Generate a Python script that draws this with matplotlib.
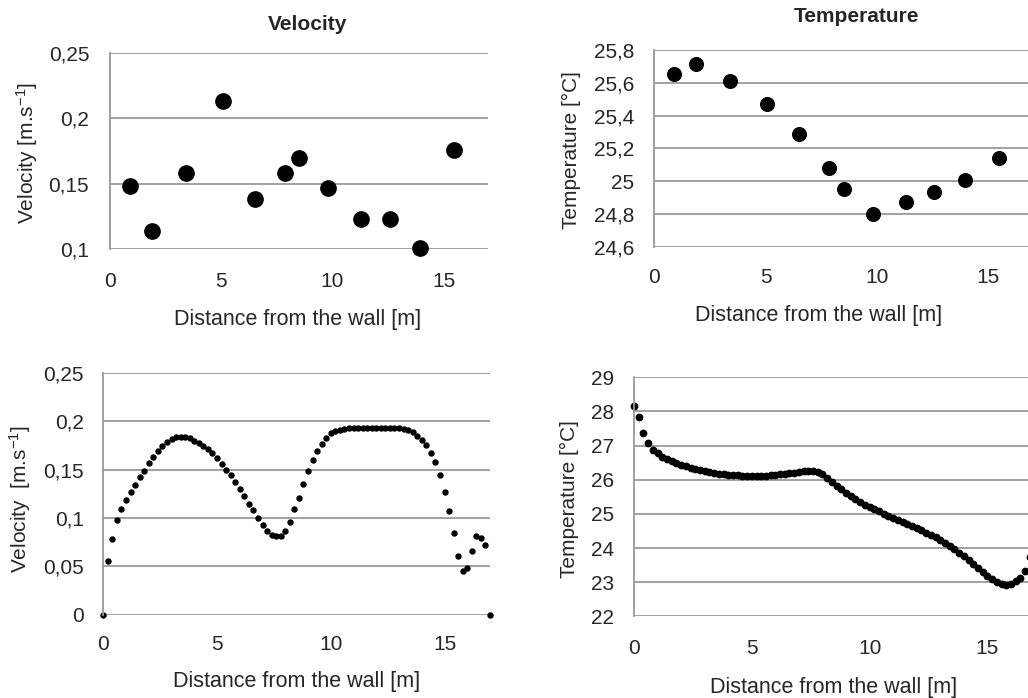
import matplotlib

matplotlib.use('Agg')
import matplotlib.pyplot as plt

plt.rcParams['font.family'] = ['Liberation Sans', 'DejaVu Sans']
plt.rcParams['mathtext.fontset'] = 'custom'
plt.rcParams['mathtext.rm'] = 'Liberation Sans'
plt.rcParams['mathtext.default'] = 'regular'

# --- measured points (top row) ---
x_meas = [0.88, 1.88, 3.42, 5.06, 6.50, 7.85, 8.50, 9.80, 11.28, 12.58, 13.96, 15.46]
vel_meas = [0.148, 0.114, 0.158, 0.213, 0.138, 0.158, 0.170, 0.147, 0.123, 0.123, 0.101, 0.176]
temp_meas = [25.654, 25.715, 25.611, 25.471, 25.290, 25.082, 24.952, 24.799, 24.871, 24.932, 25.007, 25.143]

# --- simulated profiles (bottom row) ---
x_profile = [0.0, 0.2, 0.4, 0.6, 0.8, 1.0, 1.2, 1.4, 1.6, 1.8,
             2.0, 2.2, 2.4, 2.6, 2.8, 3.0, 3.2, 3.4, 3.6, 3.8,
             4.0, 4.2, 4.4, 4.6, 4.8, 5.0, 5.2, 5.4, 5.6, 5.8,
             6.0, 6.2, 6.4, 6.6, 6.8, 7.0, 7.2, 7.4, 7.6, 7.8,
             8.0, 8.2, 8.4, 8.6, 8.8, 9.0, 9.2, 9.4, 9.6, 9.8,
             10.0, 10.2, 10.4, 10.6, 10.8, 11.0, 11.2, 11.4, 11.6, 11.8,
             12.0, 12.2, 12.4, 12.6, 12.8, 13.0, 13.2, 13.4, 13.6, 13.8,
             14.0, 14.2, 14.4, 14.6, 14.8, 15.0, 15.2, 15.4, 15.6, 15.8,
             16.0, 16.2, 16.4, 16.6, 16.8, 17.0]
vel_profile = [0.0, 0.056, 0.078, 0.098, 0.109, 0.119, 0.127, 0.134, 0.142, 0.149,
               0.157, 0.163, 0.169, 0.175, 0.179, 0.182, 0.1834, 0.1838, 0.1834, 0.1824,
               0.180, 0.178, 0.174, 0.171, 0.167, 0.162, 0.156, 0.150, 0.144, 0.137,
               0.130, 0.123, 0.115, 0.108, 0.100, 0.093, 0.087, 0.082, 0.081, 0.081,
               0.087, 0.096, 0.109, 0.121, 0.135, 0.149, 0.160, 0.169, 0.177, 0.183,
               0.188, 0.190, 0.1915, 0.1922, 0.1927, 0.193, 0.193, 0.193, 0.193, 0.1932,
               0.1933, 0.1935, 0.1936, 0.1936, 0.1934, 0.193, 0.192, 0.191, 0.189, 0.185,
               0.181, 0.176, 0.167, 0.158, 0.144, 0.127, 0.107, 0.0845, 0.061, 0.045,
               0.0486, 0.0655, 0.081, 0.0797, 0.072, 0.0]
temp_profile = [28.17, 27.85, 27.36, 27.07, 26.88, 26.78, 26.68, 26.60, 26.54, 26.49,
                26.44, 26.40, 26.35, 26.32, 26.28, 26.25, 26.22, 26.20, 26.18, 26.17,
                26.15, 26.14, 26.13, 26.12, 26.12, 26.11, 26.11, 26.12, 26.12, 26.14,
                26.15, 26.17, 26.18, 26.20, 26.21, 26.23, 26.25, 26.27, 26.27, 26.24,
                26.17, 26.06, 25.94, 25.83, 25.72, 25.61, 25.51, 25.43, 25.35, 25.27,
                25.20, 25.13, 25.07, 25.01, 24.95, 24.89, 24.83, 24.76, 24.70, 24.64,
                24.58, 24.52, 24.45, 24.38, 24.31, 24.23, 24.15, 24.06, 23.96, 23.86,
                23.76, 23.65, 23.54, 23.42, 23.30, 23.19, 23.08, 23.00, 22.94, 22.93,
                22.95, 23.02, 23.12, 23.34, 23.75, 24.30]

xticks = [0, 5, 10, 15]
yticks_vel_top = [0.1, 0.15, 0.2, 0.25]
ylabels_vel_top = ['0,1', '0,15', '0,2', '0,25']
yticks_temp_top = [24.6, 24.8, 25.0, 25.2, 25.4, 25.6, 25.8]
ylabels_temp_top = ['24,6', '24,8', '25', '25,2', '25,4', '25,6', '25,8']
yticks_vel_bot = [0, 0.05, 0.1, 0.15, 0.2, 0.25]
ylabels_vel_bot = ['0', '0,05', '0,1', '0,15', '0,2', '0,25']
yticks_temp_bot = [22, 23, 24, 25, 26, 27, 28, 29]

W, H = 1028, 698
TXT = '#262626'
GRID = '#9a9a9a'
FS = 15


def px_axes(fig, left, top, right, bottom):
    return fig.add_axes([left / W, 1 - bottom / H, (right - left) / W, (bottom - top) / H])


def style(ax, xlim, ylim, yticks, ylabels, xpad, ypad):
    ax.set_xlim(*xlim)
    ax.set_ylim(*ylim)
    ax.set_xticks(xticks)
    ax.set_xticklabels([str(t) for t in xticks])
    ax.set_yticks(yticks)
    ax.set_yticklabels(ylabels)
    for s in ['top', 'right', 'bottom']:
        ax.spines[s].set_visible(False)
    ax.spines['left'].set_color(GRID)
    ax.spines['left'].set_linewidth(1.3)
    ax.grid(axis='y', color=GRID, linewidth=1.3)
    ax.set_axisbelow(True)
    ax.tick_params(axis='x', length=0, pad=xpad, labelsize=FS, labelcolor=TXT)
    ax.tick_params(axis='y', length=0, pad=ypad, labelsize=FS, labelcolor=TXT)


def ftext(fig, x, y, s, **kw):
    fig.text(x / W, 1 - y / H, s, ha='center', va='center', color=TXT, **kw)


def main():
    fig = plt.figure(figsize=(W / 100, H / 100), dpi=100)

    # top-left: measured velocity
    ax1 = px_axes(fig, 110, 52.7, 488, 249.3)
    ax1.plot(x_meas, vel_meas, 'o', color='black', markersize=11, clip_on=False)
    style(ax1, (0, 17), (0.1, 0.25), yticks_vel_top, ylabels_vel_top, 16, 15)
    ftext(fig, 308, 24, 'Velocity', fontsize=FS, fontweight='bold')
    ftext(fig, 27, 153, 'Velocity [m.s$^{-1}$]', fontsize=FS, rotation=90)
    ftext(fig, 298, 319, 'Distance from the wall [m]', fontsize=FS + 0.5)

    # top-right: measured temperature
    ax2 = px_axes(fig, 654.3, 50, 654.3 + 17 * 22.27, 246.7)
    ax2.plot(x_meas, temp_meas, 'o', color='black', markersize=9.8, clip_on=False)
    style(ax2, (0, 17), (24.6, 25.8), yticks_temp_top, ylabels_temp_top, 15, 14.5)
    ftext(fig, 857, 17, 'Temperature', fontsize=FS, fontweight='bold')
    ftext(fig, 571, 150, 'Temperature [°C]', fontsize=FS, rotation=90)
    ftext(fig, 819, 316, 'Distance from the wall [m]', fontsize=FS + 0.5)

    # bottom-left: velocity profile
    ax3 = px_axes(fig, 103.3, 373, 490, 614.7)
    ax3.plot(x_profile, vel_profile, 'o', color='black', markersize=3.6, clip_on=False)
    style(ax3, (0, 17), (0, 0.25), yticks_vel_bot, ylabels_vel_bot, 14.5, 14)
    ftext(fig, 20, 499, 'Velocity  [m.s$^{-1}$]', fontsize=FS, rotation=90)
    ftext(fig, 297, 682, 'Distance from the wall [m]', fontsize=FS + 0.5)

    # bottom-right: temperature profile
    ax4 = px_axes(fig, 634, 377.3, 634 + 17 * 23.56, 616.3)
    ax4.plot(x_profile, temp_profile, 'o', color='black', markersize=4.6, clip_on=False)
    style(ax4, (0, 17), (22, 29), yticks_temp_bot, [str(t) for t in yticks_temp_bot], 16, 14.5)
    ftext(fig, 569, 499, 'Temperature [°C]', fontsize=FS, rotation=90)
    ftext(fig, 834, 687, 'Distance from the wall [m]', fontsize=FS + 0.5)

    fig.savefig('out.png', dpi=100)
    plt.close(fig)


if __name__ == "__main__":
    main()
